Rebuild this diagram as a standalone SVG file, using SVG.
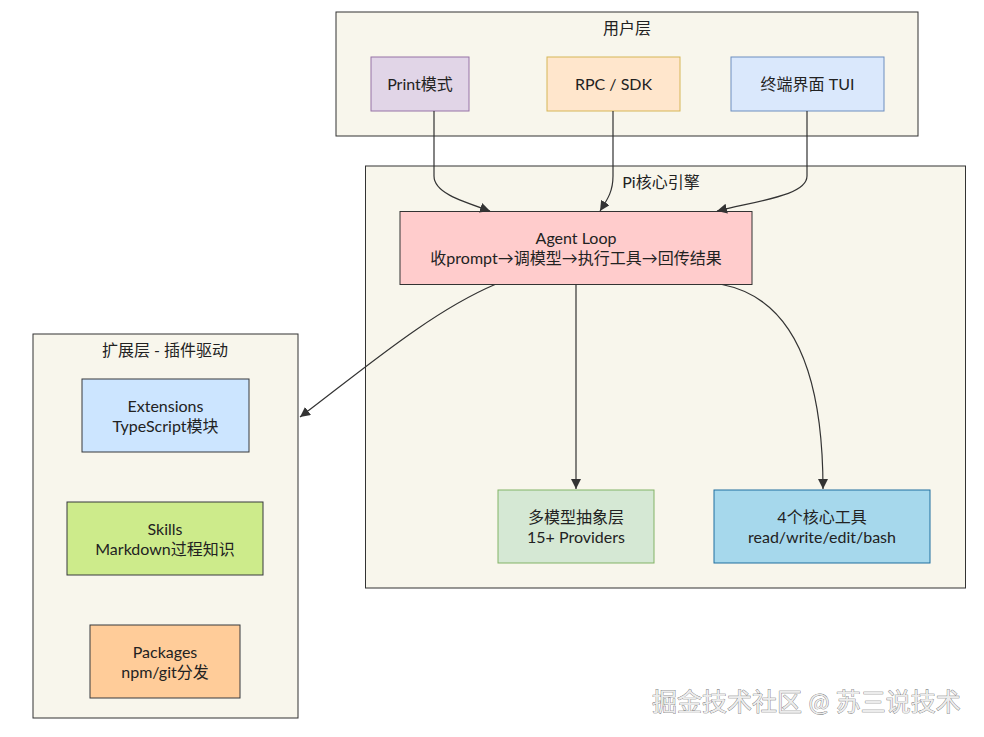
<svg xmlns="http://www.w3.org/2000/svg" width="984" height="737" viewBox="0 0 984 737">
<defs>
<style>
text{font-family:"Lato","Noto Sans CJK SC",sans-serif;font-size:16px;fill:#222;text-anchor:middle}
.cluster{fill:#f8f6ec;stroke:#333;stroke-width:1}
.edge{fill:none;stroke:#333;stroke-width:1.2}
.wm{font-size:25px;text-anchor:start;fill:#ececec;stroke:#6a6a6a;stroke-width:0.7;paint-order:stroke}
</style>
<marker id="arr" viewBox="0 0 10 10" refX="10" refY="5" markerWidth="10" markerHeight="10" markerUnits="userSpaceOnUse" orient="auto">
<path d="M0,0 L10,5 L0,10 z" fill="#333"/>
</marker>
</defs>
<rect width="984" height="737" fill="#ffffff"/>

<g id="user-layer">
<rect class="cluster" x="336" y="12" width="582" height="124"/>
<text x="627" y="34">用户层</text>
</g>
<g id="core-layer">
<rect class="cluster" x="365.5" y="166" width="600" height="422"/>
<text x="661" y="188">Pi核心引擎</text>
</g>
<g id="ext-layer">
<rect class="cluster" x="33" y="334" width="265" height="384"/>
<text x="165" y="356">扩展层 - 插件驱动</text>
</g>

<g id="print">
<rect x="371" y="57" width="98" height="54" fill="#e1d5e7" stroke="#9673a6"/>
<text x="420" y="90">Print模式</text>
</g>
<g id="rpc">
<rect x="547" y="57" width="133" height="54" fill="#ffe6cc" stroke="#d6b656"/>
<text x="613.5" y="90">RPC / SDK</text>
</g>
<g id="tui">
<rect x="731" y="57" width="153" height="54" fill="#dae8fc" stroke="#6c8ebf"/>
<text x="807.5" y="90">终端界面 TUI</text>
</g>

<g id="agent-loop">
<rect x="400" y="211.5" width="352" height="73" fill="#ffcccc" stroke="#333"/>
<text x="576" y="244">Agent Loop</text>
<text x="576" y="264">收prompt→调模型→执行工具→回传结果</text>
</g>
<g id="providers">
<rect x="498" y="490" width="156" height="73" fill="#d5e8d4" stroke="#82b366"/>
<text x="576" y="523">多模型抽象层</text>
<text x="576" y="543">15+ Providers</text>
</g>
<g id="tools">
<rect x="714" y="490" width="216" height="73" fill="#a6d8ec" stroke="#1f6f9f"/>
<text x="822" y="523">4个核心工具</text>
<text x="822" y="543">read/write/edit/bash</text>
</g>

<g id="extensions">
<rect x="82" y="379" width="167" height="73" fill="#cce5ff" stroke="#36393d"/>
<text x="165.5" y="412">Extensions</text>
<text x="165.5" y="432">TypeScript模块</text>
</g>
<g id="skills">
<rect x="67" y="502" width="196" height="73" fill="#cdeb8b" stroke="#36393d"/>
<text x="165" y="535">Skills</text>
<text x="165" y="555">Markdown过程知识</text>
</g>
<g id="packages">
<rect x="90" y="625" width="150" height="73" fill="#ffcc99" stroke="#36393d"/>
<text x="165" y="658">Packages</text>
<text x="165" y="678">npm/git分发</text>
</g>

<g id="connectors">
<path class="edge" d="M434,111 L434,176 C434,192 458,200 490,211" marker-end="url(#arr)"/>
<path class="edge" d="M613,111 L613,176 C613,192 607,200 600,211" marker-end="url(#arr)"/>
<path class="edge" d="M807,111 L807,176 C807,195 762,200 717,211" marker-end="url(#arr)"/>
<path class="edge" d="M495,284.5 C430,312 360,372 300,417" marker-end="url(#arr)"/>
<path class="edge" d="M576,284.5 L576,489" marker-end="url(#arr)"/>
<path class="edge" d="M722,284.5 C792,298 823,370 823,489" marker-end="url(#arr)"/>
</g>

<text class="wm" x="652" y="711">掘金技术社区 @ 苏三说技术</text>
</svg>
